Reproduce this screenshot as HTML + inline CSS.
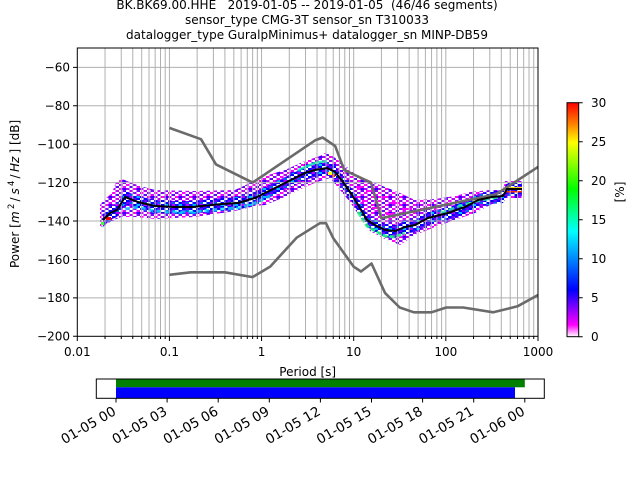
<!DOCTYPE html>
<html>
<head>
<meta charset="utf-8">
<style>
  html,body{margin:0;padding:0;background:#fff;}
  svg{display:block;}
  text{font-family:"DejaVu Sans","Liberation Sans",sans-serif;fill:#000;}
</style>
</head>
<body>
<svg width="640" height="480" viewBox="0 0 640 480" xmlns="http://www.w3.org/2000/svg">
  <defs>
    <linearGradient id="cb" x1="0" y1="1" x2="0" y2="0">
      <stop offset="0" stop-color="#ffffff"/>
      <stop offset="0.05" stop-color="#ff00ff"/>
      <stop offset="0.2" stop-color="#0000ff"/>
      <stop offset="0.45" stop-color="#00ffff"/>
      <stop offset="0.63" stop-color="#00ff00"/>
      <stop offset="0.83" stop-color="#ffff00"/>
      <stop offset="0.91" stop-color="#ff8000"/>
      <stop offset="1" stop-color="#ff0000"/>
    </linearGradient>
    <pattern id="pcore" x="0" y="0" width="14" height="8" patternUnits="userSpaceOnUse">
      <rect x="0" y="0" width="3.5" height="2" fill="#0000ff"/>
      <rect x="3.5" y="0" width="3.5" height="2" fill="#7000ff"/>
      <rect x="7" y="0" width="3.5" height="2" fill="#0000ff"/>
      <rect x="10.5" y="0" width="3.5" height="2" fill="#ffffff"/>
      <rect x="0" y="2" width="3.5" height="2" fill="#8000ff"/>
      <rect x="3.5" y="2" width="3.5" height="2" fill="#0060ff"/>
      <rect x="7" y="2" width="3.5" height="2" fill="#ffffff"/>
      <rect x="10.5" y="2" width="3.5" height="2" fill="#0000ff"/>
      <rect x="0" y="4" width="3.5" height="2" fill="#0000ff"/>
      <rect x="3.5" y="4" width="3.5" height="2" fill="#c000ff"/>
      <rect x="7" y="4" width="3.5" height="2" fill="#0000ff"/>
      <rect x="10.5" y="4" width="3.5" height="2" fill="#00c0ff"/>
      <rect x="0" y="6" width="3.5" height="2" fill="#ffffff"/>
      <rect x="3.5" y="6" width="3.5" height="2" fill="#0000ff"/>
      <rect x="7" y="6" width="3.5" height="2" fill="#6000ff"/>
      <rect x="10.5" y="6" width="3.5" height="2" fill="#0000ff"/>
    </pattern>
    <pattern id="pouter" x="0" y="0" width="14" height="8" patternUnits="userSpaceOnUse">
      <rect x="0" y="0" width="14" height="8" fill="#ffffff"/>
      <rect x="0" y="0" width="3.5" height="2" fill="#ff00ff"/>
      <rect x="7" y="0" width="3.5" height="2" fill="#9000ff"/>
      <rect x="3.5" y="2" width="3.5" height="2" fill="#6000ff"/>
      <rect x="10.5" y="2" width="3.5" height="2" fill="#e000ff"/>
      <rect x="0" y="4" width="3.5" height="2" fill="#b000ff"/>
      <rect x="7" y="4" width="3.5" height="2" fill="#ff00ff"/>
      <rect x="10.5" y="4" width="3.5" height="2" fill="#3000ff"/>
      <rect x="3.5" y="6" width="3.5" height="2" fill="#c000ff"/>
      <rect x="10.5" y="6" width="3.5" height="2" fill="#8000ff"/>
    </pattern>
    <clipPath id="ax"><rect x="77.3" y="48" width="460.7" height="288.3"/></clipPath>
  </defs>

  <!-- Title -->
  <text x="307" y="9" font-size="12" text-anchor="middle" style="white-space:pre">BK.BK69.00.HHE   2019-01-05 -- 2019-01-05  (46/46 segments)</text>
  <text x="307" y="24" font-size="12" text-anchor="middle">sensor_type CMG-3T sensor_sn T310033</text>
  <text x="307" y="39" font-size="12" text-anchor="middle">datalogger_type GuralpMinimus+ datalogger_sn MINP-DB59</text>

  <g clip-path="url(#ax)">
    <!-- heatmap band -->
    <polygon fill="url(#pouter)" points="100,205 104,200 112,193 116,182 122,179 140,186 155,190 195,191 235,190 252,182 268,175 285,170 305,161 320,156 325,153 331,155 338,160 348,168 360,178 380,185 400,193 415,200 435,199 455,196 470,192 490,190 503,190 505,181 522,181 522,198 505,198 490,205 475,213 455,220 435,227 415,235 400,245 385,239 370,231 360,217 350,202 340,190 330,178 320,181 305,187 285,197 265,205 255,206 235,211 195,217 155,219 135,217 121,217 112,221 103,226 100,228"/>
    <polygon fill="url(#pcore)" points="103,214 110,207 117,204 125,191 138,196 155,200 175,201 192,201 222,198 238,197 255,192 265,187 275,182 285,177 305,167 315,164 327,162 335,166 343,176 352,189 360,202 367,214 375,219 385,224 395,225 405,221 415,219 428,212 448,207 465,201 478,194 492,191 503,190 507,183 522,183 522,196 507,196 503,203 492,204 478,207 465,214 448,220 428,225 415,232 405,234 395,238 385,237 375,232 367,227 360,215 352,202 343,189 335,179 327,175 315,177 305,180 285,190 275,195 265,200 255,205 238,210 222,211 192,214 175,214 155,213 138,209 125,204 117,217 110,220 103,227"/>
    <polyline fill="none" stroke="#00e0ff" stroke-width="3" opacity="0.75" stroke-dasharray="5 3" points="125,209 138,207 155,211 175,212 192,212 222,209 238,208 255,203 270,196"/>
    <polyline fill="none" stroke="#20ff70" stroke-width="3" opacity="0.85" stroke-dasharray="5 2" points="358,212 367,226 375,231 385,236 395,237 405,233"/>
    <polyline fill="none" stroke="#00ffb0" stroke-width="2.5" opacity="0.8" points="298,170 315,163 327,161"/>
    <polyline fill="none" stroke="#20ff90" stroke-width="2.5" opacity="0.8" stroke-dasharray="6 3" points="440,213 460,206 478,201 500,197"/>
    <rect x="328" y="172" width="4" height="3" fill="#ffff00"/>
    <rect x="332" y="174" width="3" height="3" fill="#ff2000"/>
    <rect x="106" y="217" width="5" height="3" fill="#ff0000"/>
    <rect x="101" y="222" width="3" height="3" fill="#40ff40"/>
    <rect x="505" y="187" width="17" height="1.5" fill="#ffe000"/>
    <rect x="505" y="191" width="17" height="1.5" fill="#ff3000"/>
    <!-- sparse magenta between 10 and 60 s -->
    <g fill="#ff00ff">
      <rect x="356" y="186" width="6" height="2"/>
      <rect x="366" y="190" width="8" height="2"/>
      <rect x="378" y="196" width="10" height="2"/>
      <rect x="362" y="200" width="6" height="2"/>
      <rect x="392" y="202" width="8" height="2"/>
      <rect x="372" y="207" width="10" height="2"/>
      <rect x="402" y="208" width="10" height="2"/>
      <rect x="386" y="213" width="8" height="2"/>
    </g>

    <!-- grid -->
    <path stroke="#b0b0b0" stroke-width="1" fill="none" d="
      M105.03 48V336.3 M121.26 48V336.3 M132.77 48V336.3 M141.70 48V336.3 M148.99 48V336.3 M155.16 48V336.3 M160.50 48V336.3 M165.21 48V336.3
      M169.43 48V336.3 M197.16 48V336.3 M213.39 48V336.3 M224.90 48V336.3 M233.83 48V336.3 M241.12 48V336.3 M247.29 48V336.3 M252.63 48V336.3 M257.34 48V336.3
      M261.56 48V336.3 M289.29 48V336.3 M305.52 48V336.3 M317.03 48V336.3 M325.96 48V336.3 M333.25 48V336.3 M339.42 48V336.3 M344.76 48V336.3 M349.47 48V336.3
      M353.69 48V336.3 M381.42 48V336.3 M397.65 48V336.3 M409.16 48V336.3 M418.09 48V336.3 M425.38 48V336.3 M431.55 48V336.3 M436.89 48V336.3 M441.60 48V336.3
      M445.82 48V336.3 M473.55 48V336.3 M489.78 48V336.3 M501.29 48V336.3 M510.22 48V336.3 M517.51 48V336.3 M523.68 48V336.3 M529.02 48V336.3 M533.73 48V336.3
      M77.3 67.4H538 M77.3 105.8H538 M77.3 144.2H538 M77.3 182.6H538 M77.3 221.0H538 M77.3 259.5H538 M77.3 297.9H538"/>

    <!-- NHNM -->
    <polyline fill="none" stroke="#6b6b6b" stroke-width="2.6" stroke-linejoin="round" points="169.4,127.9 201.0,139.2 216.0,164.4 252.6,182.6 315.0,140.4 322.6,137.5 335.2,146.1 344.2,170.1 371.0,182.6 381.4,218.2 496.5,194.1 538,166.9"/>
    <!-- NLNM -->
    <polyline fill="none" stroke="#6b6b6b" stroke-width="2.6" stroke-linejoin="round" points="169.4,274.8 190.7,272.3 224.9,272.3 252.6,277.1 270.2,266.6 296.6,237.7 319.9,223.2 326.0,223.2 333.3,238.3 353.7,266.7 361.0,271.5 371.5,263.5 385.1,293.1 399.7,307.5 413.9,312.3 431.5,312.3 446.2,307.5 463.1,307.5 493.3,312.3 517.5,306.3 538,295.0"/>
    <!-- mean -->
    <polyline fill="none" stroke="#000" stroke-width="2" stroke-linejoin="round" points="103,220 110,213 117,210 125,197 138,202 155,206 175,207 192,207 222,204 238,203 255,198 265,193 275,188 285,183 305,173 315,170 327,168 335,172 343,182 352,195 360,208 367,220 375,225 385,230 395,231 405,227 415,225 428,218 448,213 465,207 478,200 492,197 503,196 507,189 522,189"/>
  </g>

  <!-- frame -->
  <rect x="77.3" y="48" width="460.7" height="288.3" fill="none" stroke="#000" stroke-width="1"/>

  <!-- ticks -->
  <path stroke="#000" stroke-width="1" fill="none" d="
    M73 67.4H77.3 M73 105.8H77.3 M73 144.2H77.3 M73 182.6H77.3 M73 221.0H77.3 M73 259.5H77.3 M73 297.9H77.3 M73 336.3H77.3
    M77.3 336.3V341 M169.43 336.3V341 M261.56 336.3V341 M353.69 336.3V341 M445.82 336.3V341 M538 336.3V341
    M105.03 336.3V339 M121.26 336.3V339 M132.77 336.3V339 M141.70 336.3V339 M148.99 336.3V339 M155.16 336.3V339 M160.50 336.3V339 M165.21 336.3V339
    M197.16 336.3V339 M213.39 336.3V339 M224.90 336.3V339 M233.83 336.3V339 M241.12 336.3V339 M247.29 336.3V339 M252.63 336.3V339 M257.34 336.3V339
    M289.29 336.3V339 M305.52 336.3V339 M317.03 336.3V339 M325.96 336.3V339 M333.25 336.3V339 M339.42 336.3V339 M344.76 336.3V339 M349.47 336.3V339
    M381.42 336.3V339 M397.65 336.3V339 M409.16 336.3V339 M418.09 336.3V339 M425.38 336.3V339 M431.55 336.3V339 M436.89 336.3V339 M441.60 336.3V339
    M473.55 336.3V339 M489.78 336.3V339 M501.29 336.3V339 M510.22 336.3V339 M517.51 336.3V339 M523.68 336.3V339 M529.02 336.3V339 M533.73 336.3V339"/>

  <!-- y tick labels -->
  <g font-size="12" text-anchor="end">
    <text x="70" y="71.7">−60</text>
    <text x="70" y="110.1">−80</text>
    <text x="70" y="148.5">−100</text>
    <text x="70" y="186.9">−120</text>
    <text x="70" y="225.3">−140</text>
    <text x="70" y="263.8">−160</text>
    <text x="70" y="302.2">−180</text>
    <text x="70" y="340.6">−200</text>
  </g>
  <!-- x tick labels -->
  <g font-size="12" text-anchor="middle">
    <text x="77.3" y="356">0.01</text>
    <text x="169.43" y="356">0.1</text>
    <text x="261.56" y="356">1</text>
    <text x="353.69" y="356">10</text>
    <text x="445.82" y="356">100</text>
    <text x="538" y="356">1000</text>
  </g>
  <text x="307.7" y="376" font-size="12" text-anchor="middle">Period [s]</text>

  <!-- y label -->
  <g transform="translate(19,192) rotate(-90)" font-size="12">
    <text x="-76" y="0">Power [</text>
    <text x="-31" y="0" font-style="italic">m</text>
    <text x="-17" y="-5" font-size="8.4">2</text>
    <text x="-9.5" y="0">/</text>
    <text x="-2.5" y="0" font-style="italic">s</text>
    <text x="6" y="-5" font-size="8.4">4</text>
    <text x="13.5" y="0">/</text>
    <text x="20" y="0" font-style="italic">Hz</text>
    <text x="38.5" y="0">] [dB]</text>
  </g>

  <!-- colorbar -->
  <rect x="567" y="102.7" width="11.7" height="234" fill="url(#cb)" stroke="#000" stroke-width="1"/>
  <path stroke="#000" stroke-width="1" d="M578.7 102.7H582.7 M578.7 141.7H582.7 M578.7 180.7H582.7 M578.7 219.7H582.7 M578.7 258.7H582.7 M578.7 297.7H582.7 M578.7 336.7H582.7"/>
  <g font-size="12" text-anchor="start">
    <text x="591" y="107">30</text>
    <text x="591" y="146">25</text>
    <text x="591" y="185">20</text>
    <text x="591" y="224">15</text>
    <text x="591" y="263">10</text>
    <text x="591" y="302">5</text>
    <text x="591" y="341">0</text>
  </g>
  <text transform="translate(624,192) rotate(-90)" font-size="12" text-anchor="middle">[%]</text>

  <!-- bottom coverage panel -->
  <rect x="116" y="379" width="408.8" height="8.3" fill="#008000"/>
  <rect x="116" y="387.3" width="399" height="11" fill="#0000ff"/>
  <rect x="96.3" y="379" width="448" height="19.3" fill="none" stroke="#000" stroke-width="1"/>
  <path stroke="#000" stroke-width="1" d="M116 398.3V402.5 M167.1 398.3V402.5 M218.2 398.3V402.5 M269.3 398.3V402.5 M320.4 398.3V402.5 M371.5 398.3V402.5 M422.6 398.3V402.5 M473.7 398.3V402.5 M524.8 398.3V402.5"/>
  <g font-size="13.5" text-anchor="end">
    <text x="117" y="414" transform="rotate(-30 117 414)">01-05 00</text>
    <text x="168.1" y="414" transform="rotate(-30 168.1 414)">01-05 03</text>
    <text x="219.2" y="414" transform="rotate(-30 219.2 414)">01-05 06</text>
    <text x="270.3" y="414" transform="rotate(-30 270.3 414)">01-05 09</text>
    <text x="321.4" y="414" transform="rotate(-30 321.4 414)">01-05 12</text>
    <text x="372.5" y="414" transform="rotate(-30 372.5 414)">01-05 15</text>
    <text x="423.6" y="414" transform="rotate(-30 423.6 414)">01-05 18</text>
    <text x="474.7" y="414" transform="rotate(-30 474.7 414)">01-05 21</text>
    <text x="525.8" y="414" transform="rotate(-30 525.8 414)">01-06 00</text>
  </g>
</svg>
</body>
</html>
